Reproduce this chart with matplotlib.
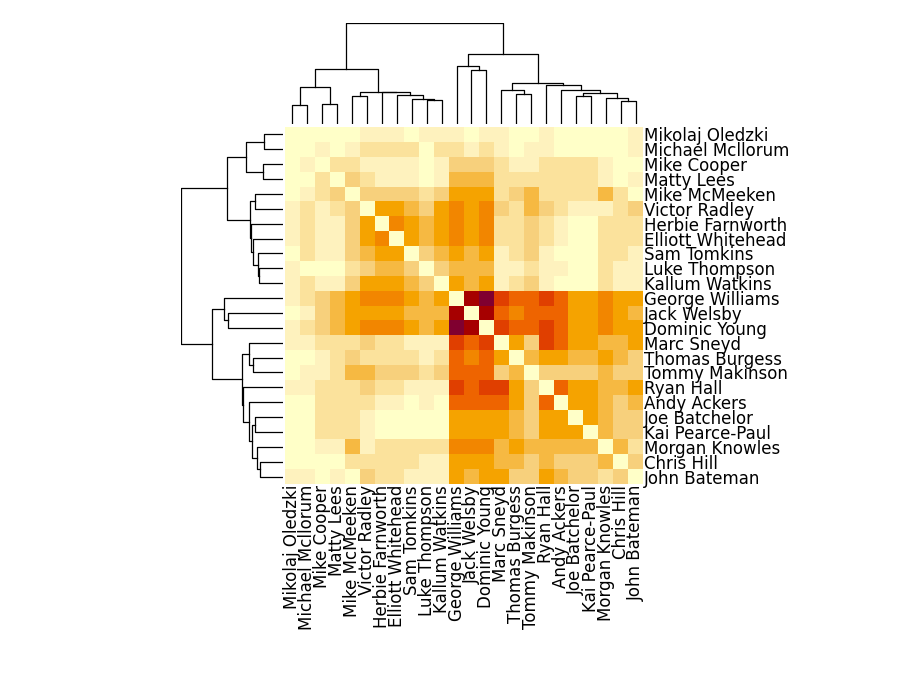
import numpy as np
import matplotlib
matplotlib.use('Agg')
import matplotlib.pyplot as plt
from matplotlib.colors import ListedColormap

# Players, in the order the clustering put them (same for rows and columns)
players = ['Mikolaj Oledzki', 'Michael Mcllorum', 'Mike Cooper', 'Matty Lees',
           'Mike McMeeken', 'Victor Radley', 'Herbie Farnworth', 'Elliott Whitehead',
           'Sam Tomkins', 'Luke Thompson', 'Kallum Watkins', 'George Williams',
           'Jack Welsby', 'Dominic Young', 'Marc Sneyd', 'Thomas Burgess',
           'Tommy Makinson', 'Ryan Hall', 'Andy Ackers', 'Joe Batchelor',
           'Kai Pearce-Paul', 'Morgan Knowles', 'Chris Hill', 'John Bateman']

# Colour level of every cell (0 = palest, 10 = darkest)
levels = [
    [0, 0, 0, 0, 0, 1, 1, 1, 0, 1, 1, 1, 0, 1, 1, 0, 0, 1, 0, 0, 0, 0, 0, 1],
    [0, 0, 1, 0, 1, 2, 2, 2, 2, 0, 2, 2, 1, 2, 1, 0, 1, 1, 0, 0, 0, 0, 0, 1],
    [0, 1, 0, 2, 2, 1, 1, 1, 1, 0, 1, 3, 3, 3, 2, 1, 1, 2, 2, 2, 2, 1, 0, 0],
    [0, 0, 2, 0, 3, 2, 1, 1, 1, 0, 1, 4, 4, 4, 2, 2, 2, 2, 2, 2, 2, 1, 0, 1],
    [0, 1, 2, 3, 0, 3, 3, 3, 3, 2, 3, 5, 5, 5, 2, 3, 4, 2, 2, 2, 2, 4, 2, 0],
    [1, 2, 1, 2, 3, 0, 5, 5, 4, 3, 5, 6, 5, 6, 3, 2, 4, 3, 2, 1, 1, 1, 2, 3],
    [1, 2, 1, 1, 3, 5, 0, 6, 5, 4, 5, 6, 5, 6, 2, 2, 3, 2, 1, 0, 0, 2, 2, 2],
    [1, 2, 1, 1, 3, 5, 6, 0, 5, 4, 5, 6, 5, 6, 2, 2, 3, 2, 1, 0, 0, 2, 2, 2],
    [0, 2, 1, 1, 3, 4, 5, 5, 0, 3, 4, 5, 4, 5, 1, 2, 3, 1, 0, 0, 0, 2, 2, 1],
    [1, 0, 0, 0, 2, 3, 4, 4, 3, 0, 3, 4, 4, 4, 1, 1, 2, 1, 1, 0, 0, 2, 1, 1],
    [1, 2, 1, 1, 3, 5, 5, 5, 4, 3, 0, 5, 4, 5, 1, 2, 3, 1, 0, 0, 0, 2, 1, 1],
    [1, 2, 3, 4, 5, 6, 6, 6, 5, 4, 5, 0, 9, 10, 8, 7, 7, 8, 7, 5, 5, 6, 5, 5],
    [0, 1, 3, 4, 5, 5, 5, 5, 4, 4, 4, 9, 0, 9, 7, 6, 7, 7, 7, 5, 5, 6, 5, 4],
    [1, 2, 3, 4, 5, 6, 6, 6, 5, 4, 5, 10, 9, 0, 8, 7, 7, 8, 7, 5, 5, 6, 5, 5],
    [1, 1, 2, 2, 2, 3, 2, 2, 1, 1, 1, 8, 7, 8, 0, 5, 3, 8, 7, 5, 5, 4, 4, 5],
    [0, 0, 1, 2, 3, 2, 2, 2, 2, 1, 2, 7, 6, 7, 5, 0, 4, 5, 5, 4, 4, 5, 4, 3],
    [0, 1, 1, 2, 4, 4, 3, 3, 3, 2, 3, 7, 7, 7, 3, 4, 0, 3, 3, 3, 3, 4, 3, 3],
    [1, 1, 2, 2, 2, 3, 2, 2, 1, 1, 1, 8, 7, 8, 8, 5, 3, 0, 7, 5, 5, 4, 4, 5],
    [0, 0, 2, 2, 2, 2, 1, 1, 0, 1, 0, 7, 7, 7, 7, 5, 3, 7, 0, 5, 5, 4, 3, 4],
    [0, 0, 2, 2, 2, 1, 0, 0, 0, 0, 0, 5, 5, 5, 5, 4, 3, 5, 5, 0, 5, 4, 3, 3],
    [0, 0, 2, 2, 2, 1, 0, 0, 0, 0, 0, 5, 5, 5, 5, 4, 3, 5, 5, 5, 0, 4, 3, 3],
    [0, 0, 1, 1, 4, 1, 2, 2, 2, 2, 2, 6, 6, 6, 4, 5, 4, 4, 4, 4, 4, 0, 4, 2],
    [0, 0, 0, 0, 2, 2, 2, 2, 2, 1, 1, 5, 5, 5, 4, 4, 3, 4, 3, 3, 3, 4, 0, 3],
    [1, 1, 0, 1, 0, 3, 2, 2, 1, 1, 1, 5, 4, 5, 5, 3, 3, 5, 4, 3, 3, 2, 3, 0],
]

# Palette from pale yellow to dark maroon
palette = ['#FFFFC8', '#FEF2BE', '#FBE29C', '#F7D07C', '#F6B942', '#F5A300',
           '#F28600', '#EE6400', '#E03F00', '#A60000', '#800030']

# Dendrogram merges: (left, right, height); ids >= 24 are earlier merges
merge_left = [0, 2, 24, 4, 9, 8, 7, 6, 27, 26, 12, 11, 15, 14, 22, 21, 19, 40, 18, 17, 37, 35, 33]
merge_right = [1, 3, 25, 5, 10, 28, 29, 30, 31, 32, 13, 34, 16, 36, 23, 38, 20, 39, 41, 42, 43, 44, 45]
merge_height = [56, 59.5, 110, 84.5, 71.5, 75, 88, 96, 97.5, 166, 164, 175.5, 89, 101,
                69.5, 77.5, 83.5, 93.5, 101, 118, 122, 211, 304]

n = len(players)
M = np.array(levels)
cmap = ListedColormap(palette)

fig = plt.figure(figsize=(9, 6.8), dpi=100)

# Work out the segments of the tree once, in (position, height) terms
pos = {i: i + 0.5 for i in range(n)}
hgt = {i: 0.0 for i in range(n)}
segments = []
for k, (a, b, h) in enumerate(zip(merge_left, merge_right, merge_height)):
    node = n + k
    segments.append(([pos[a], pos[a], pos[b], pos[b]], [hgt[a], h, h, hgt[b]]))
    pos[node] = (pos[a] + pos[b]) / 2
    hgt[node] = h
top = max(merge_height)

# Heatmap
ax = fig.add_axes([285 / 900, 1 - 484 / 680, 358 / 900, 357 / 680])
ax.pcolormesh(np.arange(n + 1), np.arange(n + 1), M, cmap=cmap, vmin=-0.5, vmax=len(palette) - 0.5)
ax.set_xlim(0, n)
ax.set_ylim(n, 0)
ax.set_xticks(np.arange(n) + 0.5)
ax.set_xticklabels(players, rotation=90, fontsize=12)
ax.set_yticks(np.arange(n) + 0.5)
ax.set_yticklabels(players, fontsize=12)
ax.yaxis.tick_right()
ax.tick_params(length=0, pad=0.8)
for s in ax.spines.values():
    s.set_visible(False)

# Column dendrogram on top
axc = fig.add_axes([285 / 900, 1 - 124 / 680, 358 / 900, 101 / 680])
for xs, ys in segments:
    axc.plot(xs, ys, color='black', lw=0.9)
axc.set_xlim(0, n)
axc.set_ylim(0, top)
axc.axis('off')

# Row dendrogram on the left
axr = fig.add_axes([181 / 900, 1 - 484 / 680, 102 / 900, 357 / 680])
for xs, ys in segments:
    axr.plot(ys, xs, color='black', lw=0.9)
axr.set_xlim(top, 0)
axr.set_ylim(n, 0)
axr.axis('off')

plt.savefig('out.png', dpi=100)
